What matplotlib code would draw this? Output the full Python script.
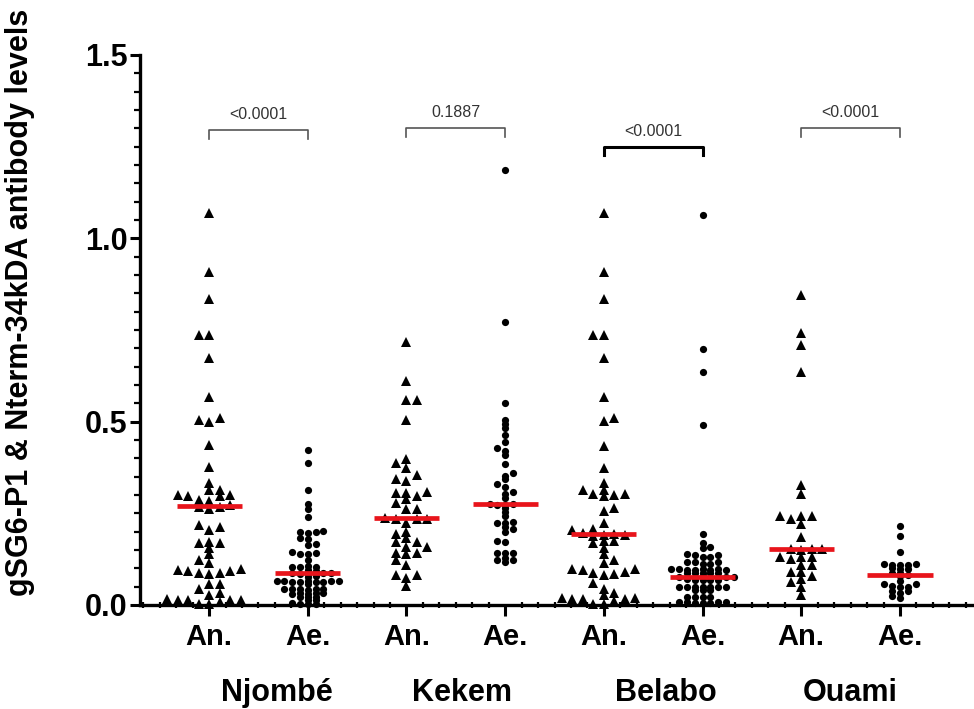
import numpy as np
import matplotlib
matplotlib.use('Agg')
import matplotlib.pyplot as plt
from matplotlib.ticker import MultipleLocator
import matplotlib.transforms as mtransforms

plt.rcParams['font.family'] = ['Liberation Sans', 'DejaVu Sans']

# --- data ---
groups = ['Njombé', 'Kekem', 'Belabo', 'Ouami']
species = ['An.', 'Ae.'] * 4

njombe_an = [1.068, 0.907, 0.834, 0.736, 0.736, 0.675, 0.566, 0.509, 0.504, 0.500, 0.436,
             0.376, 0.334, 0.315, 0.315, 0.300, 0.300, 0.298, 0.296, 0.286, 0.284, 0.272,
             0.268, 0.266, 0.262, 0.218, 0.213, 0.205, 0.172, 0.170, 0.168, 0.155, 0.138,
             0.122, 0.115, 0.098, 0.095, 0.094, 0.092, 0.088, 0.088, 0.085, 0.058, 0.056,
             0.043, 0.034, 0.027, 0.016, 0.015, 0.015, 0.014, 0.013, 0.009, 0.004, 0.003]
njombe_ae = [0.423, 0.386, 0.314, 0.275, 0.261, 0.241, 0.201, 0.200, 0.199, 0.196, 0.183,
             0.181, 0.167, 0.165, 0.145, 0.143, 0.140, 0.139, 0.123, 0.106, 0.105, 0.104,
             0.103, 0.096, 0.094, 0.087, 0.086, 0.086, 0.085, 0.085, 0.078, 0.076, 0.066,
             0.066, 0.065, 0.065, 0.065, 0.064, 0.064, 0.063, 0.063, 0.057, 0.045, 0.044,
             0.044, 0.043, 0.043, 0.042, 0.033, 0.032, 0.032, 0.031, 0.031, 0.023, 0.023,
             0.022, 0.014, 0.013, 0.005, 0.004, 0.004, 0.003]
kekem_an = [0.716, 0.612, 0.559, 0.559, 0.505, 0.397, 0.386, 0.374, 0.355, 0.345, 0.339,
            0.309, 0.305, 0.305, 0.297, 0.288, 0.277, 0.261, 0.261, 0.236, 0.235, 0.235,
            0.234, 0.224, 0.200, 0.193, 0.182, 0.172, 0.172, 0.157, 0.157, 0.143, 0.143,
            0.139, 0.123, 0.108, 0.082, 0.082, 0.073, 0.052]
kekem_ae = [1.186, 0.772, 0.550, 0.505, 0.495, 0.482, 0.464, 0.445, 0.427, 0.420, 0.408,
            0.384, 0.359, 0.353, 0.343, 0.329, 0.321, 0.309, 0.302, 0.291, 0.276, 0.275,
            0.274, 0.273, 0.265, 0.254, 0.243, 0.227, 0.224, 0.224, 0.214, 0.206, 0.200,
            0.175, 0.171, 0.143, 0.143, 0.142, 0.127, 0.123, 0.123, 0.116]
belabo_an = [1.068, 0.907, 0.834, 0.736, 0.736, 0.675, 0.566, 0.509, 0.502, 0.435, 0.375,
             0.334, 0.315, 0.315, 0.302, 0.302, 0.301, 0.296, 0.264, 0.256, 0.225, 0.206,
             0.205, 0.196, 0.194, 0.192, 0.190, 0.189, 0.175, 0.174, 0.168, 0.155, 0.138,
             0.122, 0.115, 0.097, 0.097, 0.096, 0.091, 0.086, 0.085, 0.082, 0.059, 0.045,
             0.034, 0.028, 0.018, 0.018, 0.017, 0.017, 0.016, 0.012, 0.004, 0.003]
belabo_ae = [1.065, 0.697, 0.635, 0.491, 0.195, 0.168, 0.157, 0.156, 0.138, 0.137, 0.136,
             0.132, 0.131, 0.118, 0.117, 0.116, 0.112, 0.111, 0.098, 0.097, 0.097, 0.097,
             0.096, 0.096, 0.096, 0.095, 0.088, 0.088, 0.087, 0.087, 0.086, 0.078, 0.077,
             0.077, 0.076, 0.070, 0.069, 0.069, 0.068, 0.068, 0.050, 0.050, 0.049, 0.049,
             0.049, 0.048, 0.048, 0.041, 0.040, 0.040, 0.023, 0.023, 0.022, 0.022, 0.008,
             0.008, 0.007, 0.007, 0.006, 0.006, 0.005]
ouami_an = [0.845, 0.742, 0.709, 0.635, 0.327, 0.302, 0.243, 0.243, 0.242, 0.234, 0.221,
            0.186, 0.153, 0.152, 0.152, 0.151, 0.132, 0.132, 0.131, 0.125, 0.109, 0.109,
            0.089, 0.089, 0.080, 0.070, 0.062, 0.048, 0.027]
ouami_ae = [0.215, 0.189, 0.145, 0.111, 0.111, 0.110, 0.110, 0.109, 0.100, 0.099, 0.098,
            0.088, 0.087, 0.082, 0.078, 0.066, 0.057, 0.056, 0.052, 0.050, 0.049, 0.039,
            0.037, 0.032, 0.025, 0.018]

medians = [0.270, 0.087, 0.236, 0.275, 0.193, 0.077, 0.152, 0.082]
p_values = ['<0.0001', '0.1887', '<0.0001', '<0.0001']
bracket_y = [1.295, 1.300, 1.250, 1.300]

series = [njombe_an, njombe_ae, kekem_an, kekem_ae,
          belabo_an, belabo_ae, ouami_an, ouami_ae]

# --- figure ---
W, H, DPI = 974, 709, 100
fig = plt.figure(figsize=(W / DPI, H / DPI), dpi=DPI)
ax_l, ax_b, ax_t = 140, 605, 55
ax = fig.add_axes([ax_l / W, 1 - ax_b / H, 1 - ax_l / W, (ax_b - ax_t) / H])
xlim = (0.30, 8.75)
ylim = (0.0, 1.5)
ax.set_xlim(*xlim)
ax.set_ylim(*ylim)
px_x = (W - ax_l) / (xlim[1] - xlim[0])
px_y = (ax_b - ax_t) / (ylim[1] - ylim[0])


def swarm(vals, step, sep):
    # greedy column scatter: each point goes to the lane nearest the centre
    # that has no point closer than `sep` pixels vertically
    vals = np.asarray(vals)
    offs = np.zeros(len(vals))
    lanes = {}
    for i in np.argsort(vals):
        y = vals[i] * px_y
        neg = sum(len(v) for k, v in lanes.items() if k < 0)
        pos = sum(len(v) for k, v in lanes.items() if k > 0)
        cand = [0]
        for k in range(1, 12):
            cand += [-k, k] if neg <= pos else [k, -k]
        for k in cand:
            if all(abs(y - yy) >= sep for yy in lanes.get(k, [])):
                lanes.setdefault(k, []).append(y)
                offs[i] = k * step / px_x
                break
    return offs


for i, vals in enumerate(series):
    pos = i + 1
    if i % 2 == 0:
        offs = swarm(vals, 10.5, 6.0)
        ax.plot(pos + offs, vals, '^', color='black', ms=6.5, mew=0, clip_on=False, zorder=3)
    else:
        offs = swarm(vals, 7.8, 3.3)
        ax.plot(pos + offs, vals, 'o', color='black', ms=5.2, mew=0, clip_on=False, zorder=3)
    ax.plot([pos - 0.33, pos + 0.33], [medians[i]] * 2, color='#e8141b', lw=3.4,
            solid_capstyle='butt', zorder=4)

# significance brackets
for j, (p, yb) in enumerate(zip(p_values, bracket_y)):
    x1, x2 = 2 * j + 1, 2 * j + 2
    bold = (j == 2)
    ax.plot([x1, x1, x2, x2], [yb - 0.024, yb, yb, yb - 0.024],
            color='black' if bold else '#555555', lw=2.2 if bold else 1.2,
            clip_on=False)
    ax.text((x1 + x2) / 2, yb + 0.022, p, ha='center', va='bottom', fontsize=11.5,
            color='#333333')

# axes styling
for s in ['top', 'right']:
    ax.spines[s].set_visible(False)
for s in ['left', 'bottom']:
    ax.spines[s].set_linewidth(2.4)

ax.set_yticks([0.0, 0.5, 1.0, 1.5])
ax.set_yticklabels(['0.0', '0.5', '1.0', '1.5'], fontsize=22, fontweight='bold')
ax.yaxis.set_minor_locator(MultipleLocator(0.05))
ax.tick_params(axis='y', which='major', length=7, width=2.2, pad=2)
ax.tick_params(axis='y', which='minor', length=4, width=1.6)

ax.set_xticks(range(1, 9))
ax.set_xticklabels(species, fontsize=21, fontweight='bold')
ax.xaxis.set_minor_locator(MultipleLocator(1 / 6))
ax.tick_params(axis='x', which='major', length=8, width=2.2, pad=5)
ax.tick_params(axis='x', which='minor', direction='inout', length=5, width=1.6)

# location labels under the species pairs
trans = mtransforms.blended_transform_factory(ax.transData, fig.transFigure)
for g, xc in zip(groups, [1.69, 3.56, 5.63, 7.50]):
    ax.text(xc, 1 - 693 / H, g, transform=trans, ha='center', va='center',
            fontsize=22, fontweight='bold')

fig.text(20 / W, 1 - 302 / H, 'gSG6-P1 & Nterm-34kDA antibody levels', rotation=90,
         ha='center', va='center', fontsize=22, fontweight='bold')

fig.savefig('out.png', dpi=DPI)
